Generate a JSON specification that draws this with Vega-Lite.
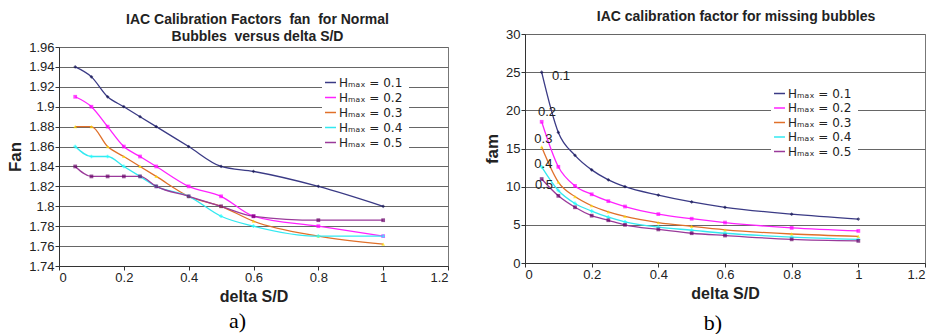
{
  "$schema": "https://vega.github.io/schema/vega-lite/v6.json",
  "padding": {"left": 6, "top": 0, "right": 5, "bottom": 0},
  "background": "white",
  "config": {
    "font": "Liberation Sans",
    "view": {"stroke": "#777", "strokeWidth": 1},
    "axis": {"labelFont": "Liberation Sans", "labelFontSize": 13, "labelColor": "#222", "titleFont": "Liberation Sans", "titleFontWeight": "bold", "titleColor": "#222", "domainColor": "#333", "tickColor": "#333", "tickSize": 4, "labelPadding": 1, "gridColor": "#666", "gridWidth": 1.2},
    "legend": {"labelFont": "DejaVu Sans", "labelFontSize": 12, "labelColor": "#222"}
  },
  "datasets": {
    "fan": [
      {"H": "0.1", "d": 0.05, "v": 1.94}, {"H": "0.1", "d": 0.1, "v": 1.93}, {"H": "0.1", "d": 0.15, "v": 1.91}, {"H": "0.1", "d": 0.2, "v": 1.9}, {"H": "0.1", "d": 0.25, "v": 1.89}, {"H": "0.1", "d": 0.3, "v": 1.88}, {"H": "0.1", "d": 0.4, "v": 1.86}, {"H": "0.1", "d": 0.5, "v": 1.84}, {"H": "0.1", "d": 0.6, "v": 1.835}, {"H": "0.1", "d": 0.8, "v": 1.82}, {"H": "0.1", "d": 1.0, "v": 1.8},
      {"H": "0.2", "d": 0.05, "v": 1.91}, {"H": "0.2", "d": 0.1, "v": 1.9}, {"H": "0.2", "d": 0.15, "v": 1.88}, {"H": "0.2", "d": 0.2, "v": 1.86}, {"H": "0.2", "d": 0.25, "v": 1.85}, {"H": "0.2", "d": 0.3, "v": 1.84}, {"H": "0.2", "d": 0.4, "v": 1.82}, {"H": "0.2", "d": 0.5, "v": 1.81}, {"H": "0.2", "d": 0.6, "v": 1.79}, {"H": "0.2", "d": 0.8, "v": 1.78}, {"H": "0.2", "d": 1.0, "v": 1.77},
      {"H": "0.3", "d": 0.05, "v": 1.88}, {"H": "0.3", "d": 0.1, "v": 1.88}, {"H": "0.3", "d": 0.15, "v": 1.86}, {"H": "0.3", "d": 0.2, "v": 1.85}, {"H": "0.3", "d": 0.25, "v": 1.84}, {"H": "0.3", "d": 0.3, "v": 1.83}, {"H": "0.3", "d": 0.4, "v": 1.81}, {"H": "0.3", "d": 0.5, "v": 1.8}, {"H": "0.3", "d": 0.6, "v": 1.785}, {"H": "0.3", "d": 0.8, "v": 1.77}, {"H": "0.3", "d": 1.0, "v": 1.762},
      {"H": "0.4", "d": 0.05, "v": 1.86}, {"H": "0.4", "d": 0.1, "v": 1.85}, {"H": "0.4", "d": 0.15, "v": 1.85}, {"H": "0.4", "d": 0.2, "v": 1.84}, {"H": "0.4", "d": 0.25, "v": 1.83}, {"H": "0.4", "d": 0.3, "v": 1.82}, {"H": "0.4", "d": 0.4, "v": 1.81}, {"H": "0.4", "d": 0.5, "v": 1.79}, {"H": "0.4", "d": 0.6, "v": 1.78}, {"H": "0.4", "d": 0.8, "v": 1.77}, {"H": "0.4", "d": 1.0, "v": 1.77},
      {"H": "0.5", "d": 0.05, "v": 1.84}, {"H": "0.5", "d": 0.1, "v": 1.83}, {"H": "0.5", "d": 0.15, "v": 1.83}, {"H": "0.5", "d": 0.2, "v": 1.83}, {"H": "0.5", "d": 0.25, "v": 1.83}, {"H": "0.5", "d": 0.3, "v": 1.82}, {"H": "0.5", "d": 0.4, "v": 1.81}, {"H": "0.5", "d": 0.5, "v": 1.8}, {"H": "0.5", "d": 0.6, "v": 1.79}, {"H": "0.5", "d": 0.8, "v": 1.786}, {"H": "0.5", "d": 1.0, "v": 1.786}
    ],
    "fam": [
      {"H": "0.1", "d": 0.05, "v": 25.0}, {"H": "0.1", "d": 0.1, "v": 17.1}, {"H": "0.1", "d": 0.15, "v": 14.1}, {"H": "0.1", "d": 0.2, "v": 12.2}, {"H": "0.1", "d": 0.25, "v": 10.9}, {"H": "0.1", "d": 0.3, "v": 10.0}, {"H": "0.1", "d": 0.4, "v": 8.9}, {"H": "0.1", "d": 0.5, "v": 8.0}, {"H": "0.1", "d": 0.6, "v": 7.3}, {"H": "0.1", "d": 0.8, "v": 6.4}, {"H": "0.1", "d": 1.0, "v": 5.75},
      {"H": "0.2", "d": 0.05, "v": 18.5}, {"H": "0.2", "d": 0.1, "v": 12.6}, {"H": "0.2", "d": 0.15, "v": 10.1}, {"H": "0.2", "d": 0.2, "v": 9.0}, {"H": "0.2", "d": 0.25, "v": 8.1}, {"H": "0.2", "d": 0.3, "v": 7.4}, {"H": "0.2", "d": 0.4, "v": 6.4}, {"H": "0.2", "d": 0.5, "v": 5.8}, {"H": "0.2", "d": 0.6, "v": 5.3}, {"H": "0.2", "d": 0.8, "v": 4.6}, {"H": "0.2", "d": 1.0, "v": 4.2},
      {"H": "0.3", "d": 0.05, "v": 15.2}, {"H": "0.3", "d": 0.1, "v": 10.6}, {"H": "0.3", "d": 0.15, "v": 8.7}, {"H": "0.3", "d": 0.2, "v": 7.5}, {"H": "0.3", "d": 0.25, "v": 6.7}, {"H": "0.3", "d": 0.3, "v": 6.1}, {"H": "0.3", "d": 0.4, "v": 5.3}, {"H": "0.3", "d": 0.5, "v": 4.8}, {"H": "0.3", "d": 0.6, "v": 4.35}, {"H": "0.3", "d": 0.8, "v": 3.8}, {"H": "0.3", "d": 1.0, "v": 3.5},
      {"H": "0.4", "d": 0.05, "v": 12.6}, {"H": "0.4", "d": 0.1, "v": 9.5}, {"H": "0.4", "d": 0.15, "v": 7.8}, {"H": "0.4", "d": 0.2, "v": 6.8}, {"H": "0.4", "d": 0.25, "v": 6.0}, {"H": "0.4", "d": 0.3, "v": 5.4}, {"H": "0.4", "d": 0.4, "v": 4.7}, {"H": "0.4", "d": 0.5, "v": 4.3}, {"H": "0.4", "d": 0.6, "v": 3.9}, {"H": "0.4", "d": 0.8, "v": 3.4}, {"H": "0.4", "d": 1.0, "v": 3.1},
      {"H": "0.5", "d": 0.05, "v": 11.0}, {"H": "0.5", "d": 0.1, "v": 8.8}, {"H": "0.5", "d": 0.15, "v": 7.3}, {"H": "0.5", "d": 0.2, "v": 6.2}, {"H": "0.5", "d": 0.25, "v": 5.6}, {"H": "0.5", "d": 0.3, "v": 5.0}, {"H": "0.5", "d": 0.4, "v": 4.4}, {"H": "0.5", "d": 0.5, "v": 3.9}, {"H": "0.5", "d": 0.6, "v": 3.6}, {"H": "0.5", "d": 0.8, "v": 3.1}, {"H": "0.5", "d": 1.0, "v": 2.9}
    ],
    "ann": [
      {"t": "0.1", "d": 0.108, "v": 24.5}, {"t": "0.2", "d": 0.066, "v": 19.8}, {"t": "0.3", "d": 0.055, "v": 16.3}, {"t": "0.4", "d": 0.055, "v": 13.0}, {"t": "0.5", "d": 0.057, "v": 10.2}
    ],
    "titleA": [{"t": "IAC Calibration Factors\u00a0 fan\u00a0 for Normal\nBubbles\u00a0 versus delta S/D"}],
    "titleB": [{"t": "IAC calibration factor for missing bubbles"}],
    "capA": [{"t": "a)"}],
    "capB": [{"t": "b)"}]
  },
  "hconcat": [
    {
      "bounds": "flush",
      "vconcat": [
        {
          "width": 389, "height": 44,
          "view": {"stroke": null},
          "data": {"name": "titleA"},
          "mark": {"type": "text", "font": "Liberation Sans", "fontSize": 14, "fontWeight": "bold", "color": "#222", "lineBreak": "\n", "lineHeight": 17, "dx": 4, "dy": -2},
          "encoding": {"text": {"field": "t", "type": "nominal"}}
        },
        {
          "width": 389, "height": 219,
          "data": {"name": "fan"},
          "encoding": {
            "x": {"field": "d", "type": "quantitative", "scale": {"domain": [0, 1.2], "nice": false}, "axis": {"values": [0, 0.2, 0.4, 0.6, 0.8, 1, 1.2], "format": "~g", "grid": false, "title": "delta S/D", "titleFontSize": 16, "titlePadding": 4}},
            "y": {"field": "v", "type": "quantitative", "scale": {"domain": [1.74, 1.96], "nice": false, "zero": false}, "axis": {"values": [1.74, 1.76, 1.78, 1.8, 1.82, 1.84, 1.86, 1.88, 1.9, 1.92, 1.94, 1.96], "format": "~g", "title": "Fan", "titleFontSize": 17, "titlePadding": 4}}
          },
          "layer": [
            {
              "mark": {"type": "line", "interpolate": "monotone", "strokeWidth": 1.3},
              "encoding": {
                "color": {"field": "H", "type": "nominal", "scale": {"domain": ["0.1", "0.2", "0.3", "0.4", "0.5"], "range": ["#3a3a85", "#ff22ff", "#e0702a", "#33e8f0", "#9a3a9a"]},
                  "legend": {"orient": "none", "legendX": 263, "legendY": 27, "title": null, "labelExpr": "'Hₘₐₓ =  ' + datum.label", "symbolType": "stroke", "symbolSize": 120, "symbolStrokeWidth": 1.5, "rowPadding": 2, "fillColor": "white", "padding": 2, "labelOffset": 2}}
              }
            },
            {
              "mark": {"type": "point", "filled": true, "size": 14},
              "encoding": {
                "color": {"field": "H", "type": "nominal", "scale": {"domain": ["0.1", "0.2", "0.3", "0.4", "0.5"], "range": ["#101050", "#ff00ff", "#ffe000", "#22ffff", "#660066"]}, "legend": null},
                "shape": {"field": "H", "type": "nominal", "scale": {"domain": ["0.1", "0.2", "0.3", "0.4", "0.5"], "range": ["diamond", "square", "triangle-up", "cross", "square"]}, "legend": null}
              }
            }
          ],
          "resolve": {"scale": {"color": "independent"}}
        },
        {
          "width": 389, "height": 60,
          "view": {"stroke": null},
          "data": {"name": "capA"},
          "mark": {"type": "text", "font": "Liberation Serif", "fontSize": 22, "color": "#000", "dx": -16, "dy": 22},
          "encoding": {"text": {"field": "t", "type": "nominal"}}
        }
      ],
      "spacing": 3
    },
    {
      "bounds": "flush",
      "vconcat": [
        {
          "width": 400, "height": 31,
          "view": {"stroke": null},
          "data": {"name": "titleB"},
          "mark": {"type": "text", "font": "Liberation Sans", "fontSize": 14, "fontWeight": "bold", "color": "#222", "dx": 11, "dy": 1.5},
          "encoding": {"text": {"field": "t", "type": "nominal"}}
        },
        {
          "width": 400, "height": 229,
          "encoding": {
            "x": {"field": "d", "type": "quantitative", "scale": {"domain": [0, 1.2], "nice": false}, "axis": {"values": [0, 0.2, 0.4, 0.6, 0.8, 1, 1.2], "format": "~g", "grid": false, "title": "delta S/D", "titleFontSize": 16, "titlePadding": 4}},
            "y": {"field": "v", "type": "quantitative", "scale": {"domain": [0, 30], "nice": false}, "axis": {"values": [0, 5, 10, 15, 20, 25, 30], "title": "fam", "titleFontSize": 17, "titlePadding": 4}}
          },
          "layer": [
            {
              "data": {"name": "fam"},
              "mark": {"type": "line", "interpolate": "monotone", "strokeWidth": 1.3},
              "encoding": {
                "color": {"field": "H", "type": "nominal", "scale": {"domain": ["0.1", "0.2", "0.3", "0.4", "0.5"], "range": ["#3a3a85", "#ff22ff", "#e0702a", "#33e8f0", "#9a3a9a"]},
                  "legend": {"orient": "none", "legendX": 246, "legendY": 51, "title": null, "labelExpr": "'Hₘₐₓ =  ' + datum.label", "symbolType": "stroke", "symbolSize": 120, "symbolStrokeWidth": 1.5, "rowPadding": 1.5, "fillColor": "white", "padding": 2, "labelOffset": 2}}
              }
            },
            {
              "data": {"name": "fam"},
              "mark": {"type": "point", "filled": true, "size": 14},
              "encoding": {
                "color": {"field": "H", "type": "nominal", "scale": {"domain": ["0.1", "0.2", "0.3", "0.4", "0.5"], "range": ["#101050", "#ff00ff", "#ffe000", "#22ffff", "#660066"]}, "legend": null},
                "shape": {"field": "H", "type": "nominal", "scale": {"domain": ["0.1", "0.2", "0.3", "0.4", "0.5"], "range": ["diamond", "square", "triangle-up", "cross", "square"]}, "legend": null}
              }
            },
            {
              "data": {"name": "ann"},
              "mark": {"type": "text", "fontSize": 13, "color": "#222", "font": "Liberation Sans"},
              "encoding": {"text": {"field": "t", "type": "nominal"}}
            }
          ],
          "resolve": {"scale": {"color": "independent"}}
        },
        {
          "width": 400, "height": 60,
          "view": {"stroke": null},
          "data": {"name": "capB"},
          "mark": {"type": "text", "font": "Liberation Serif", "fontSize": 22, "color": "#000", "dx": -12, "dy": 27},
          "encoding": {"text": {"field": "t", "type": "nominal"}}
        }
      ],
      "spacing": 3
    }
  ],
  "spacing": 34
}
